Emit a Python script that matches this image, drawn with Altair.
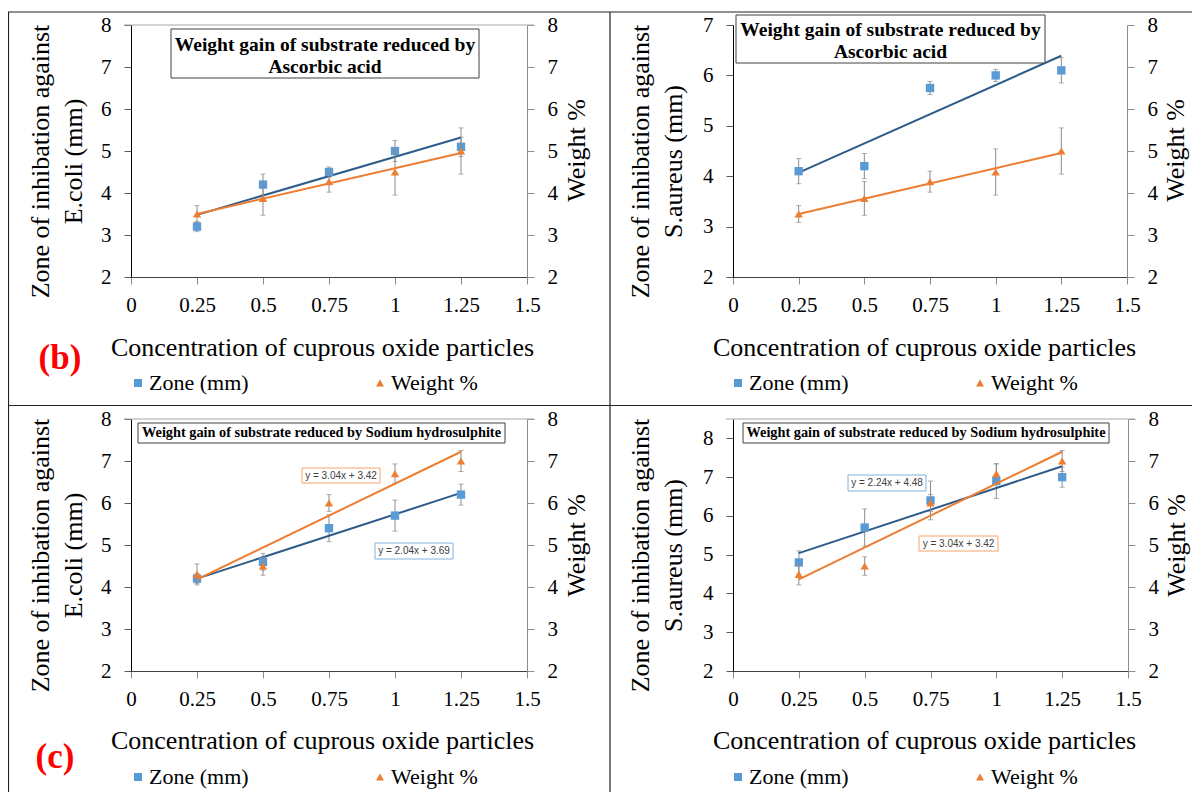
import altair as alt
import pandas as pd

# ---------------- data ----------------
conc = [0.25, 0.5, 0.75, 1.0, 1.25]
x_ticks = [0, 0.25, 0.5, 0.75, 1, 1.25, 1.5]
series_names = ["Zone (mm)", "Weight %"]

zone_ecoli_ascorbic = [3.2, 4.2, 4.5, 5.0, 5.1]
zone_ecoli_ascorbic_err = [0.12, 0.25, 0.12, 0.25, 0.23]
zone_saureus_ascorbic = [4.1, 4.2, 5.75, 6.0, 6.1]
zone_saureus_ascorbic_err = [0.25, 0.25, 0.13, 0.12, 0.25]
weight_ascorbic = [3.5, 3.87, 4.27, 4.5, 5.0]
weight_ascorbic_err = [0.2, 0.4, 0.25, 0.55, 0.55]

zone_ecoli_sodium = [4.2, 4.6, 5.4, 5.7, 6.2]
zone_ecoli_sodium_err = [0.12, 0.2, 0.32, 0.37, 0.25]
zone_saureus_sodium = [4.8, 5.7, 6.4, 6.9, 7.0]
zone_saureus_sodium_err = [0.3, 0.48, 0.5, 0.45, 0.26]
weight_sodium = [4.3, 4.5, 6.0, 6.7, 7.0]
weight_sodium_err = [0.25, 0.22, 0.2, 0.23, 0.25]

box_title_ascorbic = ["Weight gain of substrate reduced by", "Ascorbic acid"]
box_title_sodium = "Weight gain of substrate reduced by Sodium hydrosulphite"
left_title_ecoli = ["Zone of inhibation against", "E.coli (mm)"]
left_title_saureus = ["Zone of inhibation against", "S.aureus (mm)"]
right_title = "Weight %"
x_title = "Concentration of cuprous oxide particles"
panel_tags = ["(b)", "(c)"]
eq_p3 = ["y = 3.04x + 3.42", "y = 2.04x + 3.69"]
eq_p4 = ["y = 2.24x + 4.48", "y = 3.04x + 3.42"]

# ---------------- style / layout ----------------
W, H = 1184, 784
M = 8
SERIF = "Liberation Serif"
SANS = "Liberation Sans"
BLUE = "#5B9BD5"
ORANGE = "#ED7D31"
BLUE_LINE = "#2E5C8A"
GRAY = "#8C8C8C"

panels = [
    dict(zone=zone_ecoli_ascorbic, zerr=zone_ecoli_ascorbic_err, weight=weight_ascorbic,
         werr=weight_ascorbic_err, x0=131, x1=527, yt=25, yb=277, ldom=[2, 8],
         lvals=[2, 3, 4, 5, 6, 7, 8], ltitle=left_title_ecoli, ltx=40, lty=161,
         rtx=576, rty=150, xtx=322, xty=347, legz=(127, 372), legw=(369, 372)),
    dict(zone=zone_saureus_ascorbic, zerr=zone_saureus_ascorbic_err, weight=weight_ascorbic,
         werr=weight_ascorbic_err, x0=733, x1=1127, yt=25, yb=277, ldom=[2, 7],
         lvals=[2, 3, 4, 5, 6, 7], ltitle=left_title_saureus, ltx=640, lty=161,
         rtx=1175, rty=150, xtx=924, xty=347, legz=(727, 372), legw=(969, 372)),
    dict(zone=zone_ecoli_sodium, zerr=zone_ecoli_sodium_err, weight=weight_sodium,
         werr=weight_sodium_err, x0=131, x1=527, yt=419, yb=671, ldom=[2, 8],
         lvals=[2, 3, 4, 5, 6, 7, 8], ltitle=left_title_ecoli, ltx=40, lty=555,
         rtx=576, rty=545, xtx=322, xty=740, legz=(127, 766), legw=(369, 766)),
    dict(zone=zone_saureus_sodium, zerr=zone_saureus_sodium_err, weight=weight_sodium,
         werr=weight_sodium_err, x0=733, x1=1128, yt=419, yb=671, ldom=[2, 8.5],
         lvals=[2, 3, 4, 5, 6, 7, 8], ltitle=left_title_saureus, ltx=640, lty=555,
         rtx=1176, rty=545, xtx=924, xty=740, legz=(727, 766), legw=(969, 766)),
]


def legend_at(pos):
    return alt.Legend(orient="none", legendX=pos[0] - M, legendY=pos[1] - M,
                      title=None, labelFont=SERIF, labelFontSize=22,
                      labelColor="black", symbolSize=64, symbolStrokeWidth=0,
                      labelOffset=0, padding=0, symbolOpacity=1)


def series_layers(p, df, val, err, color_line, idx, side):
    name = series_names[idx]
    mcolor = [BLUE, ORANGE][idx]
    mshape = ["square", "triangle-up"][idx]
    xsc = alt.Scale(domain=[0, 1.5], range=[p["x0"] - M, p["x1"] - M], nice=False, zero=False)
    dom = p["ldom"] if side == "left" else [2, 8]
    ysc = alt.Scale(domain=dom, range=[p["yb"] - M, p["yt"] - M], nice=False, zero=False)
    X = alt.X("conc:Q", scale=xsc, axis=None)
    base = alt.Chart(df).transform_calculate(
        lo=f"datum.{val} - datum.{err}", hi=f"datum.{val} + datum.{err}")
    rule = base.mark_rule(color=GRAY, strokeWidth=1).encode(
        x=X, y=alt.Y("lo:Q", scale=ysc, axis=None), y2="hi:Q")
    cap_lo = base.mark_tick(orient="horizontal", size=5, thickness=1, color=GRAY).encode(
        x=X, y=alt.Y("lo:Q", scale=ysc, axis=None))
    cap_hi = base.mark_tick(orient="horizontal", size=5, thickness=1, color=GRAY).encode(
        x=X, y=alt.Y("hi:Q", scale=ysc, axis=None))
    trend = alt.Chart(df).transform_regression("conc", val, extent=[0.25, 1.25]).mark_line(
        color=color_line, strokeWidth=2).encode(x=X, y=alt.Y(f"{val}:Q", scale=ysc, axis=None))

    if side == "left":
        yaxis = alt.Axis(orient="left", offset=-(p["x0"] - M), values=p["lvals"], format="d",
                         title=p["ltitle"], titleX=p["ltx"] - p["x0"], titleY=p["lty"] - M,
                         titleAngle=270, titleAlign="center", titleBaseline="middle",
                         titleFont=SERIF, titleFontSize=26, titleFontWeight="normal",
                         titleColor="black", titleLineHeight=33, titleLimit=600,
                         labelFont=SERIF, labelFontSize=21, labelColor="black", labelPadding=13,
                         tickSize=7, tickColor="#595959", domainColor="black", grid=False)
        xaxis = alt.Axis(orient="bottom", offset=(p["yb"] - M) - H, values=x_ticks, format=".3~g",
                         title=x_title, titleX=p["xtx"] - M, titleY=p["xty"] - p["yb"],
                         titleAlign="center", titleBaseline="middle", titleFont=SERIF,
                         titleFontSize=26, titleFontWeight="normal", titleColor="black",
                         titleLimit=800, labelFont=SERIF, labelFontSize=21, labelColor="black",
                         labelPadding=10, labelFlush=False, tickSize=7, tickColor=GRAY,
                         domainColor="#404040", grid=False)
        Xa = alt.X("conc:Q", scale=xsc, axis=xaxis)
        legpos = p["legz"]
    else:
        yaxis = alt.Axis(orient="right", offset=(p["x1"] - M) - W, values=[2, 3, 4, 5, 6, 7, 8],
                         format="d", title=right_title, titleX=p["rtx"] - p["x1"],
                         titleY=p["rty"] - M, titleAngle=270, titleAlign="center",
                         titleBaseline="middle", titleFont=SERIF, titleFontSize=26,
                         titleFontWeight="normal", titleColor="black", titleLimit=600,
                         labelFont=SERIF, labelFontSize=21, labelColor="black", labelPadding=13,
                         tickSize=7, tickColor=GRAY, domainColor=GRAY, grid=False)
        Xa = X
        legpos = p["legw"]
    leg = legend_at(legpos)
    pts = alt.Chart(df).transform_calculate(series=f"'{name}'").mark_point(
        filled=True, size=70, opacity=1).encode(
        x=Xa, y=alt.Y(f"{val}:Q", scale=ysc, axis=yaxis),
        color=alt.Color("series:N", scale=alt.Scale(domain=[name], range=[mcolor]), legend=leg),
        shape=alt.Shape("series:N", scale=alt.Scale(domain=[name], range=[mshape]), legend=leg))
    return [rule, cap_lo, cap_hi, trend, pts]


def panel(p):
    df = pd.DataFrame({"conc": conc, "zone": p["zone"], "zerr": p["zerr"],
                       "weight": p["weight"], "werr": p["werr"]})
    return (series_layers(p, df, "zone", "zerr", BLUE_LINE, 0, "left")
            + series_layers(p, df, "weight", "werr", ORANGE, 1, "right"))


one = alt.Data(values=[{"k": 1}])


def hline(x0, x1, y, color, w=1.0):
    return alt.Chart(one).mark_rule(color=color, strokeWidth=w).encode(
        x=alt.value(x0 - M), x2=alt.value(x1 - M), y=alt.value(y - M))


def vline(x, y0, y1, color, w=1.0):
    return alt.Chart(one).mark_rule(color=color, strokeWidth=w).encode(
        x=alt.value(x - M), y=alt.value(y0 - M), y2=alt.value(y1 - M))


def box(x0, x1, y0, y1, stroke, w=1.0):
    return alt.Chart(one).mark_rect(fill="white", stroke=stroke, strokeWidth=w).encode(
        x=alt.value(x0 - M), x2=alt.value(x1 - M), y=alt.value(y0 - M), y2=alt.value(y1 - M))


def label(x, y, text, font, size, weight="normal", color="black", lh=None):
    kw = dict(text=text, font=font, fontSize=size, fontWeight=weight, color=color,
              align="center", baseline="middle")
    if lh:
        kw["lineHeight"] = lh
    return alt.Chart(one).mark_text(**kw).encode(x=alt.value(x - M), y=alt.value(y - M))


decor = [
    hline(8, 1200, 12, "#222222", 1.2),
    vline(8.5, 12, 792, "#222222", 1.2),
    vline(610, 12, 792, "#222222", 1.2),
    hline(8, 1200, 405.5, "#222222", 1.2),
    hline(124, 534, 25, "#A6A6A6"),
    hline(124, 534, 419, "#A6A6A6"),
    hline(726, 1135, 419, "#A6A6A6"),
]

annot = [
    box(171, 479, 29, 78, "#404040"),
    label(325, 45, box_title_ascorbic, SERIF, 19.5, "bold", lh=22),
    box(736, 1045, 15, 63, "#404040"),
    label(890.5, 30, box_title_ascorbic, SERIF, 19.5, "bold", lh=22),
    box(138, 505, 423, 443, "#404040"),
    label(321.5, 433, box_title_sodium, SERIF, 14.3, "bold"),
    box(743, 1109, 423, 443, "#404040"),
    label(926, 433, box_title_sodium, SERIF, 14.3, "bold"),
    box(302, 380, 468, 483, "#F4A46A"),
    label(341, 475.5, eq_p3[0], SANS, 10, color="#404040"),
    box(375, 453, 543, 559, "#7FB2E0"),
    label(414, 551, eq_p3[1], SANS, 10, color="#404040"),
    box(848, 926, 475, 491, "#7FB2E0"),
    label(887, 483, eq_p4[0], SANS, 10, color="#404040"),
    box(919, 998, 536, 551, "#F4A46A"),
    label(958.5, 543.5, eq_p4[1], SANS, 10, color="#404040"),
    label(60, 358, panel_tags[0], SERIF, 35, "bold", color="#FF0000"),
    label(55, 757, panel_tags[1], SERIF, 35, "bold", color="#FF0000"),
]

layers = decor + [l for p in panels for l in panel(p)] + annot

chart = alt.layer(*layers).resolve_scale(
    x="independent", y="independent", color="independent", shape="independent"
).resolve_axis(x="independent", y="independent").resolve_legend(
    color="independent", shape="independent"
).properties(
    width=W, height=H, padding=0, autosize=alt.AutoSizeParams(type="none")
).configure(background="white").configure_view(stroke=None)

chart.save("out.html", embed_options={"renderer": "svg", "actions": False})
